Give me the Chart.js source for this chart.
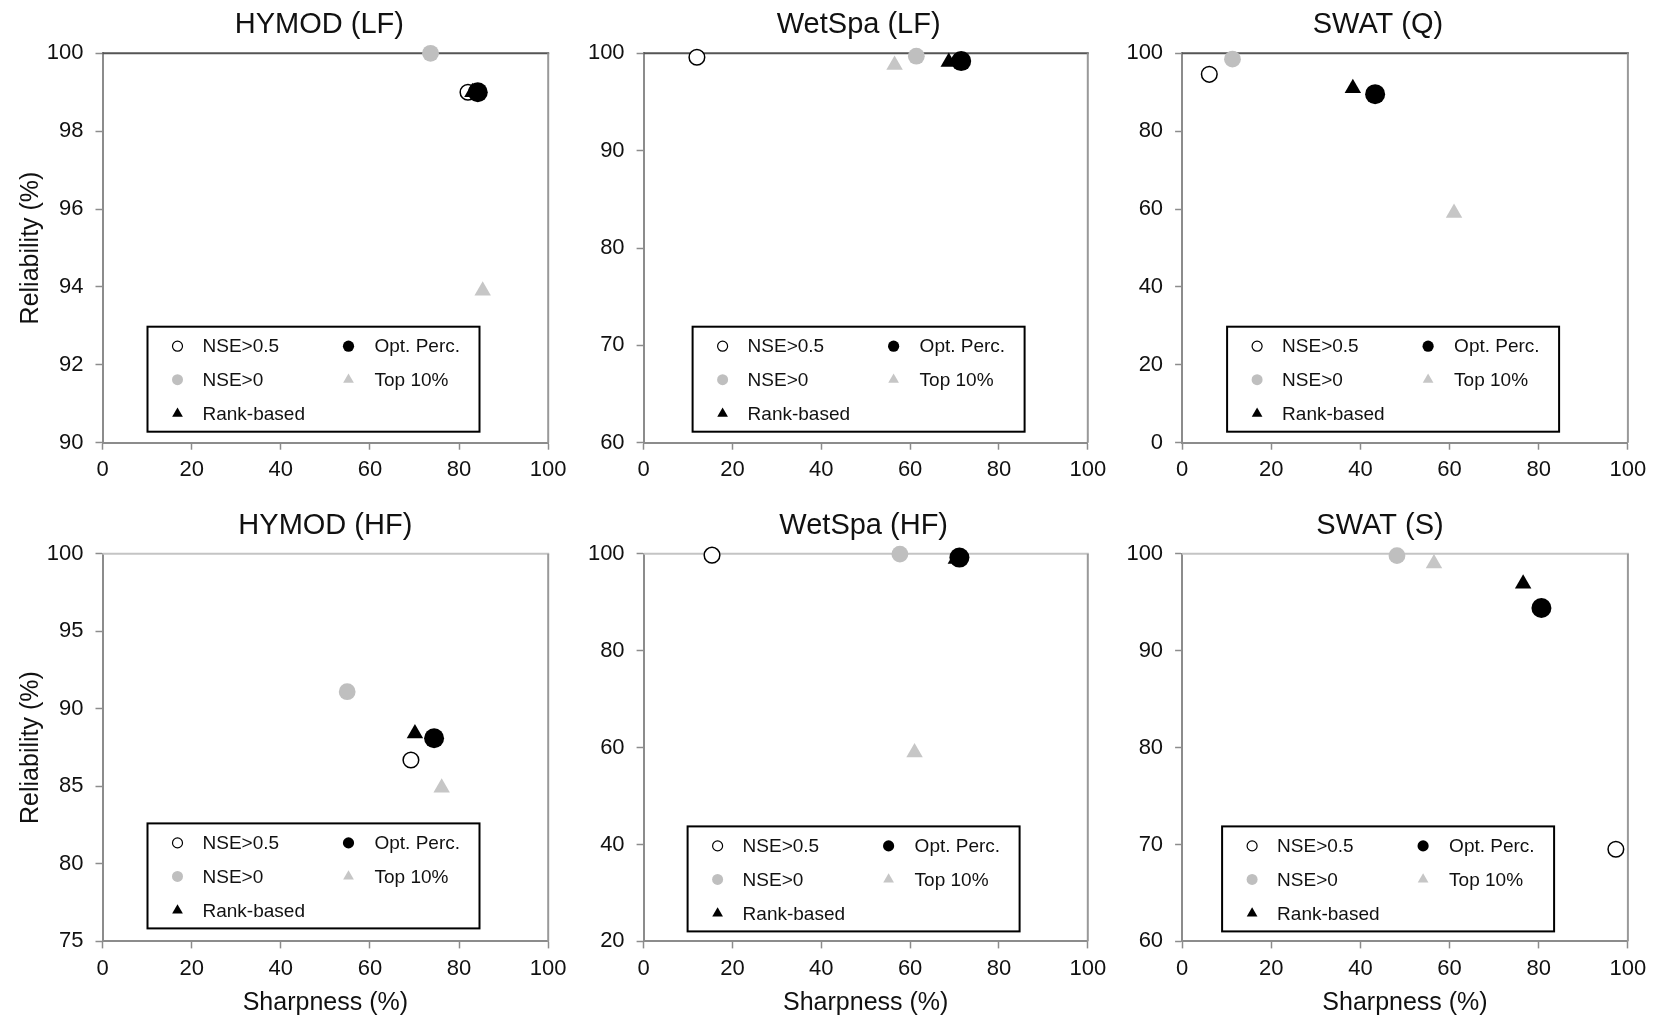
<!DOCTYPE html>
<html>
<head>
<meta charset="utf-8">
<title>Reliability vs Sharpness</title>
<script src="https://cdn.jsdelivr.net/npm/chart.js@4.4.1/dist/chart.umd.min.js"></script>
<style>
  html, body { margin: 0; padding: 0; background: #fff; }
  #wrap { position: relative; width: 1656px; height: 1021px; overflow: hidden; }
  #wrap canvas { position: absolute; }
</style>
</head>
<body>
<div id="wrap"></div>
<script>
// panels, in reading order
const panelTitles = ['HYMOD (LF)', 'WetSpa (LF)', 'SWAT (Q)', 'HYMOD (HF)', 'WetSpa (HF)', 'SWAT (S)'];
const methodNames = ['NSE>0.5', 'NSE>0', 'Rank-based', 'Opt. Perc.', 'Top 10%'];

// sharpness (%) / reliability (%) for each method, one value per panel
const nse05Sharp = [82.0, 12.0, 6.1, 69.2, 15.4, 97.3];
const nse05Rel   = [99.0, 99.6, 94.6, 86.7, 99.7, 69.5];
const nse0Sharp  = [73.6, 61.4, 11.3, 54.9, 57.7, 48.2];
const nse0Rel    = [100.0, 99.7, 98.5, 91.1, 99.9, 99.8];
const rankSharp  = [83.0, 68.7, 38.3, 70.1, 70.3, 76.5];
const rankRel    = [99.0, 99.1, 91.0, 88.4, 98.9, 96.9];
const optSharp   = [84.2, 71.5, 43.3, 74.4, 71.1, 80.6];
const optRel     = [99.0, 99.2, 89.5, 88.1, 99.2, 94.4];
const top10Sharp = [85.3, 56.5, 61.0, 76.1, 61.0, 56.5];
const top10Rel   = [93.9, 98.8, 59.0, 84.9, 59.0, 99.0];

// axis ranges
const xMin = 0, xMax = 100, xStep = 20;
const yMin  = [90, 60, 0, 75, 20, 60];
const yMax  = [100, 100, 100, 100, 100, 100];
const yStep = [2, 10, 20, 5, 20, 10];

// ---- layout (pixels) ----
const cols = [
  { left: 0,    width: 580, axisW: 102.5, padR: 31.8 },
  { left: 580,  width: 540, axisW: 63.6,  padR: 32.2 },
  { left: 1120, width: 536, axisW: 62.1,  padR: 28.1 }
];
const rows = [
  { top: 0,   height: 490, padT: 53.3, axisH: 47.3, topLine: '#555555' },
  { top: 490, height: 531, padT: 63.7, axisH: 79.6, topLine: '#c4c4c4' }
];
const titleShift   = [-6, -7, -27, 0, -2, -25];
const legendLeft   = [45, 49, 45, 45, 44, 40];
const legendBottom = [11, 11, 11, 13, 10, 10];

const FONT = '"Liberation Sans", Arial, Helvetica, sans-serif';
Chart.defaults.font.family = FONT;
Chart.defaults.color = '#111';

const series = [
  { sx: nse05Sharp, ry: nse05Rel },
  { sx: nse0Sharp,  ry: nse0Rel },
  { sx: rankSharp,  ry: rankRel },
  { sx: optSharp,   ry: optRel },
  { sx: top10Sharp, ry: top10Rel }
];
const markers = [
  { style: 'circle',   r: 7.8, fill: '#ffffff', line: '#000000', bw: 1.5, order: 2, lr: 5,   lbw: 1.2 },
  { style: 'circle',   r: 8.4, fill: '#bfbfbf', line: '#bfbfbf', bw: 0,   order: 3, lr: 5.5, lbw: 0 },
  { style: 'triangle', r: 9.5, fill: '#000000', line: '#000000', bw: 0,   order: 1, lr: 6.2, lbw: 0 },
  { style: 'circle',   r: 10,  fill: '#000000', line: '#000000', bw: 0,   order: 0, lr: 5.6, lbw: 0 },
  { style: 'triangle', r: 9.5, fill: '#c6c6c6', line: '#c6c6c6', bw: 0,   order: 4, lr: 6.2, lbw: 0 }
];
// legend grid: [column, row] per method
const legendSlot = [[0, 0], [0, 1], [0, 2], [1, 0], [1, 1]];

const AXIS = '#8c8c8c';

const panelPlugin = {
  id: 'panel',
  beforeDatasetsDraw(chart, args, opts) {
    const { ctx, chartArea: a } = chart;
    ctx.save();
    ctx.lineWidth = 2;
    ctx.strokeStyle = opts.topLine;
    ctx.beginPath(); ctx.moveTo(a.left, a.top); ctx.lineTo(a.right + 1, a.top); ctx.stroke();
    ctx.strokeStyle = '#999999';
    ctx.beginPath(); ctx.moveTo(a.right, a.top); ctx.lineTo(a.right, a.bottom); ctx.stroke();
    ctx.restore();
  },
  afterDatasetsDraw(chart, args, opts) {
    const { ctx, chartArea: a } = chart;
    const bw = 332, bh = 105;
    const bx = a.left + opts.legendLeft;
    const by = a.bottom - opts.legendBottom - bh;
    ctx.save();
    ctx.fillStyle = '#fff';
    ctx.fillRect(bx, by, bw, bh);
    ctx.lineWidth = 2;
    ctx.strokeStyle = '#000';
    ctx.strokeRect(bx, by, bw, bh);
    const colX = [30, 201], textX = [55, 227], rowY = [19.5, 53, 87];
    ctx.font = '19px ' + FONT;
    ctx.textBaseline = 'middle';
    ctx.textAlign = 'left';
    methodNames.forEach((name, i) => {
      const m = markers[i];
      const [c, r] = legendSlot[i];
      ctx.fillStyle = m.fill;
      ctx.strokeStyle = m.line;
      ctx.lineWidth = m.lbw;
      Chart.helpers.drawPoint(ctx, { pointStyle: m.style, radius: m.lr, borderWidth: m.lbw, rotation: 0 },
        bx + colX[c], by + rowY[r]);
      ctx.fillStyle = '#111';
      ctx.fillText(name, bx + textX[c], by + rowY[r] + 1);
    });
    ctx.restore();
  },
  afterDraw(chart, args, opts) {
    const { ctx, chartArea: a } = chart;
    ctx.save();
    ctx.font = '29px ' + FONT;
    ctx.fillStyle = '#111';
    ctx.textAlign = 'center';
    ctx.textBaseline = 'middle';
    ctx.fillText(opts.title, (a.left + a.right) / 2 + opts.titleShift, a.top - 28);
    ctx.restore();
  }
};

const wrap = document.getElementById('wrap');

panelTitles.forEach((title, p) => {
  const col = cols[p % 3];
  const row = rows[Math.floor(p / 3)];
  const canvas = document.createElement('canvas');
  canvas.width = col.width;
  canvas.height = row.height;
  canvas.style.left = col.left + 'px';
  canvas.style.top = row.top + 'px';
  canvas.style.width = col.width + 'px';
  canvas.style.height = row.height + 'px';
  wrap.appendChild(canvas);

  const datasets = series.map((s, i) => {
    const m = markers[i];
    return {
      label: methodNames[i],
      data: [{ x: s.sx[p], y: s.ry[p] }],
      pointStyle: m.style,
      pointRadius: m.r,
      pointHoverRadius: m.r,
      backgroundColor: m.fill,
      borderColor: m.line,
      borderWidth: m.bw,
      order: m.order,
      clip: false
    };
  });

  const firstCol = p % 3 === 0;
  const bottomRow = p >= 3;

  new Chart(canvas, {
    type: 'scatter',
    data: { datasets },
    options: {
      responsive: false,
      animation: false,
      devicePixelRatio: 1,
      events: [],
      layout: { padding: { top: row.padT, right: col.padR, left: 0, bottom: 0 } },
      plugins: {
        legend: { display: false },
        tooltip: { enabled: false },
        title: { display: false },
        panel: {
          title: title,
          titleShift: titleShift[p],
          legendLeft: legendLeft[p],
          legendBottom: legendBottom[p],
          topLine: row.topLine
        }
      },
      scales: {
        x: {
          type: 'linear',
          min: xMin, max: xMax,
          afterFit: (s) => { s.height = row.axisH; },
          ticks: { stepSize: xStep, padding: 7, font: { size: 22 }, color: '#111', maxRotation: 0 },
          grid: { drawOnChartArea: false, drawTicks: true, tickLength: 7, tickColor: AXIS, tickWidth: 1.5 },
          border: { display: true, color: AXIS, width: 2 },
          title: {
            display: bottomRow,
            text: 'Sharpness (%)',
            font: { size: 25 },
            color: '#111',
            padding: { top: 0, bottom: 3 }
          }
        },
        y: {
          type: 'linear',
          min: yMin[p], max: yMax[p],
          afterFit: (s) => { s.width = col.axisW; },
          ticks: { stepSize: yStep[p], padding: 12, font: { size: 22 }, color: '#111' },
          grid: { drawOnChartArea: false, drawTicks: true, tickLength: 7, tickColor: AXIS, tickWidth: 1.5 },
          border: { display: true, color: AXIS, width: 2 },
          title: {
            display: firstCol,
            text: 'Reliability (%)',
            font: { size: 25 },
            color: '#111',
            padding: { top: 16, bottom: 0 }
          }
        }
      }
    },
    plugins: [panelPlugin]
  });
});
</script>
</body>
</html>
